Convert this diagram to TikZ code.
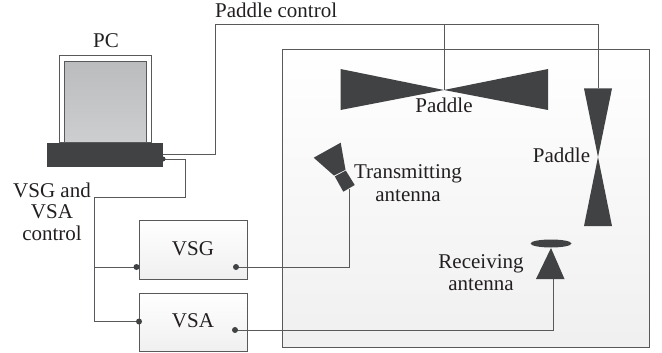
\documentclass[tikz,border=0pt]{standalone}
\usepackage{fontspec}
\setmainfont{Liberation Serif}
\definecolor{dk}{HTML}{414244}
\definecolor{ln}{HTML}{58595B}
\definecolor{tx}{HTML}{231F20}
\definecolor{scrtop}{HTML}{BBBCBE}
\definecolor{scrbot}{HTML}{CDCED0}
\tikzset{
 txt/.style={anchor=base,inner sep=0pt,text=tx,font=\fontsize{21}{21}\selectfont},
 wire/.style={draw=ln,line width=1pt},
 solid part/.style={fill=dk,draw=none},
 dot/.style={circle,fill=dk,draw=none,inner sep=0pt,minimum size=6pt},
 box/.style={draw=ln,line width=1pt,bottom color=black!6,top color=white,inner sep=0pt,anchor=north west}
}
\begin{document}
\begin{tikzpicture}[x=1pt,y=-1pt]
\useasboundingbox (0,0) rectangle (662,353);
% chamber
\node[box,minimum width=367.5pt,minimum height=298pt] (chamber) at (281.5,49) {};
% PC
\node[draw=ln,line width=1pt,fill=white,anchor=north west,inner sep=0pt,minimum width=92pt,minimum height=87pt] (outer) at (59,55) {};
\node[draw=ln,line width=1.2pt,anchor=north west,inner sep=0pt,minimum width=82pt,minimum height=80.5pt,top color=scrtop,bottom color=scrbot] (screen) at (64,61) {};
\node[solid part,anchor=north west,inner sep=0pt,minimum width=116pt,minimum height=24pt] (base) at (47,143) {};
% boxes
\node[box,minimum width=108pt,minimum height=58.5pt] (vsg) at (139,220) {};
\node[box,minimum width=108pt,minimum height=58pt] (vsa) at (139,293) {};
% coordinates
\coordinate (pcA) at (163,154);
\coordinate (pcB) at (163,159);
\coordinate (ctlTop) at (215,25);
\coordinate (ctlLow) at (215,154);
\coordinate (j1) at (444,25);
\coordinate (j2) at (598,25);
\coordinate (hc) at (444,90);
\coordinate (vt) at (598,88.5);
\coordinate (b1) at (185.5,159);
\coordinate (b2) at (185.5,197);
\coordinate (b3) at (94,197);
\coordinate (b4) at (94,267);
\coordinate (b5) at (94,321.5);
\coordinate (vsgL) at (136.5,267);
\coordinate (vsaL) at (139,321.5);
\coordinate (vsgR) at (236,267);
\coordinate (vsaR) at (235,330);
\coordinate (tx1) at (349,267);
\coordinate (tx2) at (349,189);
\coordinate (rx1) at (553,330);
\coordinate (rx2) at (553,278);
% wires
\draw[wire] (pcA) -- (ctlLow) -- (ctlTop) -- (j2) -- (vt);
\draw[wire] (j1) -- (hc);
\draw[wire] (pcB) -- (b1) -- (b2) -- (b3) -- (b5) -- (vsaL);
\draw[wire] (b4) -- (vsgL);
\draw[wire] (vsgR) -- (tx1) -- (tx2);
\draw[wire] (vsaR) -- (rx1) -- (rx2);
% dots
\node[dot,minimum size=5pt] (d0) at (pcB) {};
\node[dot] (d1) at (vsgL) {};
\node[dot] (d2) at (vsaL) {};
\node[dot] (d3) at (vsgR) {};
\node[dot] (d4) at (vsaR) {};
% paddles
\fill[dk] (340.5,69) -- (444,90) -- (548,69) -- (548,110) -- (444,90) -- (340.5,110) -- cycle;
\fill[dk] (584,88.5) -- (612,88.5) -- (598,157) -- (612,226) -- (584,226) -- (598,157) -- cycle;
% transmitting antenna
\fill[dk] (313.7,157.7) -- (340.7,142.7) -- (345.5,169.8) -- (334,175.6) -- cycle;
\fill[dk] (345.8,170.6) -- (354.7,185) -- (343.3,191.7) -- (334.8,176.4) -- cycle;
% receiving antenna
\fill[dk] (551,243.5) ellipse [x radius=20.5pt,y radius=4pt];
\fill[dk] (551,248) -- (564.5,279) -- (536,279) -- cycle;
% labels
\node[txt] (lpc) at (106,48) {PC};
\node[txt,anchor=base west] (lctl) at (215,18) {Paddle control};
\node[txt] (l1) at (52,197) {VSG and};
\node[txt] (l2) at (52,218.5) {VSA};
\node[txt] (l3) at (52,240) {control};
\node[txt] (lvsg) at (193,255) {VSG};
\node[txt] (lvsa) at (193,327) {VSA};
\node[txt] (lp1) at (444,113) {Paddle};
\node[txt] (lp2) at (561.5,162) {Paddle};
\node[txt] (lt1) at (408,178) {Transmitting};
\node[txt] (lt2) at (408,201) {antenna};
\node[txt] (lr1) at (481,268) {Receiving};
\node[txt] (lr2) at (481,290) {antenna};
\end{tikzpicture}
\end{document}
